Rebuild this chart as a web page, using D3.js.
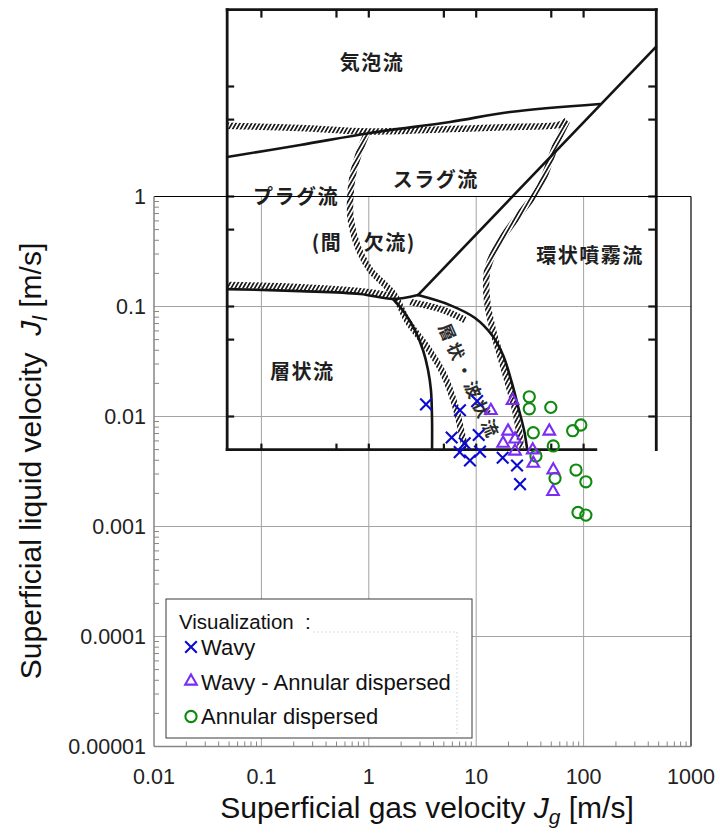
<!DOCTYPE html>
<html>
<head>
<meta charset="utf-8">
<script src="https://cdn.jsdelivr.net/npm/d3@7"></script>
<style>
  body { margin: 0; background: #fff; }
  svg { display: block; }
  .pre { white-space: pre; }
</style>
</head>
<body>
<svg id="chart" width="720" height="834"></svg>
<script>
// ---- axis ticks ----
const xTicks = [0.01, 0.1, 1, 10, 100, 1000];
const xTickLabels = ["0.01", "0.1", "1", "10", "100", "1000"];
const yTicks = [0.00001, 0.0001, 0.001, 0.01, 0.1, 1];
const yTickLabels = ["0.00001", "0.0001", "0.001", "0.01", "0.1", "1"];

// ---- observed flow patterns: [Jg (m/s), Jl (m/s)] ----
const wavy = [
  [3.41, 0.0129], [7.06, 0.0114], [10.2, 0.0138], [5.91, 0.00644],
  [7.82, 0.0057], [7.02, 0.00474], [10.55, 0.00679], [10.85, 0.00479],
  [8.75, 0.00398], [17.65, 0.00422], [24.0, 0.00359], [25.6, 0.00243]
];
const wavyAnnular = [
  [13.7, 0.0116], [21.8, 0.0143], [19.8, 0.00754], [23.0, 0.00638],
  [17.8, 0.00584], [23.0, 0.00496], [33.6, 0.00509], [34.0, 0.00384],
  [47.9, 0.00754], [52.2, 0.00335], [51.9, 0.00213]
];
const annular = [
  [31.2, 0.0151], [31.2, 0.01175], [49.5, 0.0121], [34.0, 0.00712],
  [52.2, 0.0054], [36.0, 0.00437], [79.1, 0.00743], [94.2, 0.00837],
  [54.2, 0.00274], [85.0, 0.00326], [105, 0.00255], [88.7, 0.00134],
  [105, 0.00127]
];

// ---- flow-regime map, boundaries as [Jg, Jl] ----
const mapJgRange = [0.048, 475];
const mapJlRange = [0.005, 50];
const mapBottomEnd = 130;
const mapJgTicks = [0.1, 0.5, 1, 5, 10, 50, 100];
const mapJlTicks = [10, 5, 1, 0.5, 0.1, 0.05, 0.01];

// transition zones (hatched)
const bubbleHatch = [[0.048, 4.4], [0.23, 4.2], [1.0, 3.9], [5.7, 4.1], [25, 4.3], [60, 4.5], [70, 4.9]];
const annularHatch = [
  [70, 4.86], [56, 3.06], [39, 1.22], [28.5, 0.80], [20.6, 0.53], [15, 0.33],
  [12.6, 0.206], [12.6, 0.115], [14.3, 0.061], [16.7, 0.036], [19.4, 0.0215],
  [22.5, 0.0127], [25, 0.0075], [26, 0.0052]
];
const plugSlugHatch = [
  [0.98, 3.94], [0.83, 2.65], [0.71, 1.57], [0.67, 0.93], [0.68, 0.61],
  [0.78, 0.36], [1.03, 0.215], [1.42, 0.157], [1.75, 0.125], [2.27, 0.075],
  [3.48, 0.043], [4.9, 0.025], [6.35, 0.0127], [7.4, 0.0068], [7.9, 0.005]
];
const stratifiedHatch = [[0.048, 0.157], [0.23, 0.150], [0.83, 0.138], [1.68, 0.125]];
const junctionHatch = [[2.42, 0.110], [4.6, 0.095], [7.87, 0.0754]];

// solid boundaries
const slugTop = [[0.048, 2.29], [0.23, 2.94], [1.03, 3.78], [5.7, 4.76], [20.6, 5.86], [142, 6.93]];
const annularDiagonal = [[2.87, 0.127], [472, 22.9]];
const wavyRight = [
  [2.87, 0.127], [5.7, 0.103], [9.75, 0.0786], [14, 0.055], [17.8, 0.036],
  [21.5, 0.0202], [25, 0.0115], [27.9, 0.0075], [29.7, 0.0052]
];
const stratifiedTop = [[0.048, 0.144], [0.23, 0.138], [0.83, 0.130], [1.68, 0.117], [2.87, 0.127]];
const stratifiedRight = [
  [1.68, 0.117], [2.17, 0.087], [2.69, 0.061], [3.2, 0.040], [3.56, 0.0265],
  [3.79, 0.0174], [3.88, 0.0093], [3.88, 0.005]
];

const regimeNames = ["気泡流", "スラグ流", "プラグ流", "(間　欠流)", "層状流", "環状噴霧流"];
const regimeAt = [[1.07, 16.4], [4.2, 1.41], [0.21, 1.0], [0.9, 0.378], [0.24, 0.0254], [115, 0.288]];
const wavyName = "層状・波状流";
const wavyNameAt = [8.6, 0.0206];

// ---- legend ----
const legendTitle = "Visualization  :";
const seriesNames = ["Wavy", "Wavy - Annular dispersed", "Annular dispersed"];
const seriesColors = ["#0b0bd0", "#7a2cf2", "#0e8a0e"];

(function draw() {
  const svg = d3.select("#chart");
  const W = 720, H = 834;
  svg.append("rect").attr("width", W).attr("height", H).attr("fill", "#fff");

  const pL = 154, pR = 691, pT = 196.5, pB = 746.5;
  const x = d3.scaleLog().domain([0.01, 1000]).range([pL, pR]);
  const y = d3.scaleLog().domain([0.00001, 1]).range([pB, pT]);

  const FONT = "'Liberation Sans', Arial, sans-serif";
  const JP = "'Noto Sans CJK JP', 'Noto Sans CJK SC', sans-serif";

  // gridlines
  const grid = svg.append("g").attr("stroke", "#a3a3a3").attr("stroke-width", 1);
  xTicks.slice(1, -1).forEach(v => {
    grid.append("line").attr("x1", x(v)).attr("x2", x(v)).attr("y1", pT).attr("y2", pB);
  });
  yTicks.slice(1, -1).forEach(v => {
    grid.append("line").attr("x1", pL).attr("x2", pR).attr("y1", y(v)).attr("y2", y(v));
  });

  // ---- regime map ----
  const defs = svg.append("defs");
  const pat = defs.append("pattern")
    .attr("id", "hatch")
    .attr("patternUnits", "userSpaceOnUse")
    .attr("width", 3.4).attr("height", 3.4)
    .attr("patternTransform", "rotate(30)");
  pat.append("rect").attr("width", 1.7).attr("height", 3.4).attr("fill", "#1c1c1c");

  const mapG = svg.append("g");
  const smooth = d3.line().x(d => x(d[0])).y(d => y(d[1])).curve(d3.curveCatmullRom.alpha(0.5));
  const straight = d3.line().x(d => x(d[0])).y(d => y(d[1]));

  function hatchBand(p) {
    mapG.append("path").attr("d", smooth(p))
      .attr("fill", "none").attr("stroke", "url(#hatch)")
      .attr("stroke-width", 6.5).attr("stroke-linecap", "butt");
  }
  function solid(p, gen) {
    mapG.append("path").attr("d", (gen || smooth)(p))
      .attr("fill", "none").attr("stroke", "#141414")
      .attr("stroke-width", 2.6).attr("stroke-linejoin", "round").attr("stroke-linecap", "round");
  }

  hatchBand(bubbleHatch);
  hatchBand(annularHatch);
  hatchBand(plugSlugHatch);
  hatchBand(stratifiedHatch);
  hatchBand(junctionHatch);

  solid(slugTop);
  solid(annularDiagonal, straight);
  solid(wavyRight);
  solid(stratifiedTop);
  solid(stratifiedRight);

  // map frame
  const mx0 = x(mapJgRange[0]), mx1 = x(mapJgRange[1]);
  const my0 = y(mapJlRange[1]), my1 = y(mapJlRange[0]);
  const frame = mapG.append("g").attr("stroke", "#141414").attr("stroke-width", 2.8).attr("stroke-linecap", "square");
  frame.append("line").attr("x1", mx0).attr("x2", mx1).attr("y1", my0).attr("y2", my0);
  frame.append("line").attr("x1", mx0).attr("x2", mx0).attr("y1", my0).attr("y2", my1);
  frame.append("line").attr("x1", mx1).attr("x2", mx1).attr("y1", my0).attr("y2", my1);
  frame.append("line").attr("x1", mx0).attr("x2", x(mapBottomEnd)).attr("y1", my1).attr("y2", my1);

  const mt = mapG.append("g").attr("stroke", "#141414").attr("stroke-width", 2.2);
  mapJgTicks.forEach(v => {
    mt.append("line").attr("x1", x(v)).attr("x2", x(v)).attr("y1", my0).attr("y2", my0 + 8);
    if (v <= mapBottomEnd) mt.append("line").attr("x1", x(v)).attr("x2", x(v)).attr("y1", my1).attr("y2", my1 - 6);
  });
  mapJlTicks.forEach(v => {
    mt.append("line").attr("x1", mx0).attr("x2", mx0 + 7).attr("y1", y(v)).attr("y2", y(v));
    mt.append("line").attr("x1", mx1).attr("x2", mx1 - 8).attr("y1", y(v)).attr("y2", y(v));
  });

  // regime names
  regimeNames.forEach((t, i) => {
    mapG.append("text")
      .attr("x", x(regimeAt[i][0])).attr("y", y(regimeAt[i][1]))
      .attr("dy", "0.36em")
      .attr("text-anchor", "middle")
      .attr("font-family", JP).attr("font-size", 20).attr("font-weight", 700)
      .attr("letter-spacing", 1.5)
      .attr("fill", "#1e1e1e")
      .attr("class", "pre")
      .text(t);
  });
  mapG.append("text")
    .attr("transform", `translate(${x(wavyNameAt[0])},${y(wavyNameAt[1])}) rotate(66)`)
    .attr("dy", "0.36em")
    .attr("text-anchor", "middle")
    .attr("font-family", JP).attr("font-size", 17).attr("font-weight", 700)
    .attr("letter-spacing", 4)
    .attr("fill", "#2a2a2a")
    .text(wavyName);

  // ---- plot frame ----
  svg.append("line").attr("x1", pL).attr("x2", pR).attr("y1", pT).attr("y2", pT)
    .attr("stroke", "#000").attr("stroke-width", 1.2);
  svg.append("line").attr("x1", pR).attr("x2", pR).attr("y1", pT).attr("y2", pB)
    .attr("stroke", "#000").attr("stroke-width", 1.2);

  const axisG = svg.append("g").attr("stroke", "#868686").attr("stroke-width", 1.5);
  axisG.append("line").attr("x1", pL).attr("x2", pL).attr("y1", pT).attr("y2", pB);
  axisG.append("line").attr("x1", pL).attr("x2", pR).attr("y1", pB).attr("y2", pB);

  const minorG = svg.append("g").attr("stroke", "#868686").attr("stroke-width", 1);
  xTicks.slice(0, -1).forEach(d => {
    for (let k = 2; k <= 9; k++) {
      const v = d * k;
      minorG.append("line").attr("x1", x(v)).attr("x2", x(v)).attr("y1", pB).attr("y2", pB - 5);
    }
  });
  yTicks.slice(0, -1).forEach(d => {
    for (let k = 2; k <= 9; k++) {
      const v = d * k;
      minorG.append("line").attr("x1", pL).attr("x2", pL + 5).attr("y1", y(v)).attr("y2", y(v));
    }
  });

  // tick labels
  xTicks.forEach((v, i) => {
    svg.append("text").attr("x", x(v)).attr("y", pB + 37)
      .attr("text-anchor", "middle")
      .attr("font-family", FONT).attr("font-size", 21.5).attr("fill", "#222")
      .text(xTickLabels[i]);
  });
  yTicks.forEach((v, i) => {
    svg.append("text").attr("x", pL - 8).attr("y", y(v)).attr("dy", "0.35em")
      .attr("text-anchor", "end")
      .attr("font-family", FONT).attr("font-size", 21.5).attr("fill", "#222")
      .text(yTickLabels[i]);
  });

  // axis titles
  const xt = svg.append("text").attr("x", 427).attr("y", 818)
    .attr("text-anchor", "middle").attr("font-family", FONT).attr("font-size", 30)
    .attr("fill", "#111").attr("class", "pre");
  xt.append("tspan").text("Superficial gas velocity ");
  xt.append("tspan").attr("font-style", "italic").text("J");
  xt.append("tspan").attr("font-style", "italic").attr("font-size", 21).attr("dy", 6).text("g");
  xt.append("tspan").attr("dy", -6).text(" [m/s]");

  const yt = svg.append("text").attr("transform", "translate(41,461) rotate(-90)")
    .attr("text-anchor", "middle").attr("font-family", FONT).attr("font-size", 30)
    .attr("fill", "#111").attr("class", "pre");
  yt.append("tspan").text("Superficial liquid velocity  ");
  yt.append("tspan").attr("font-style", "italic").text("J");
  yt.append("tspan").attr("font-style", "italic").attr("font-size", 21).attr("dy", 6).text("l");
  yt.append("tspan").attr("dy", -6).text(" [m/s]");

  // ---- markers ----
  function drawX(g, cx, cy, color) {
    const s = 5.8;
    g.append("path")
      .attr("d", `M${cx - s},${cy - s}L${cx + s},${cy + s}M${cx - s},${cy + s}L${cx + s},${cy - s}`)
      .attr("stroke", color).attr("stroke-width", 2.1).attr("fill", "none");
  }
  function drawTri(g, cx, cy, color) {
    g.append("path")
      .attr("d", `M${cx},${cy - 5.6}L${cx + 5.8},${cy + 4.6}L${cx - 5.8},${cy + 4.6}Z`)
      .attr("stroke", color).attr("stroke-width", 2.1).attr("fill", "none")
      .attr("stroke-linejoin", "miter");
  }
  function drawCircle(g, cx, cy, color) {
    g.append("circle").attr("cx", cx).attr("cy", cy).attr("r", 5.6)
      .attr("stroke", color).attr("stroke-width", 2.1).attr("fill", "none");
  }
  const drawers = [drawX, drawTri, drawCircle];
  const seriesData = [wavy, wavyAnnular, annular];

  const pts = svg.append("g");
  // annular first so the wavy crosses sit on top
  [2, 1, 0].forEach(si => {
    seriesData[si].forEach(d => drawers[si](pts, x(d[0]), y(d[1]), seriesColors[si]));
  });

  // ---- legend ----
  const lg = svg.append("g");
  lg.append("rect").attr("x", 166).attr("y", 599).attr("width", 306).attr("height", 139)
    .attr("fill", "#fff").attr("stroke", "#3a3a3a").attr("stroke-width", 1);
  lg.append("path").attr("d", "M313,632H457V735")
    .attr("fill", "none").attr("stroke", "#cfcfcf").attr("stroke-width", 1).attr("stroke-dasharray", "1.5,2.5");
  lg.append("text").attr("x", 179).attr("y", 629)
    .attr("font-family", FONT).attr("font-size", 20.5).attr("fill", "#111").attr("class", "pre")
    .text(legendTitle);
  const rowY = [647, 680, 716.5];
  const baseY = [655, 689.5, 723.5];
  seriesNames.forEach((n, i) => {
    drawers[i](lg, 191, rowY[i], seriesColors[i]);
    lg.append("text").attr("x", 201).attr("y", baseY[i])
      .attr("font-family", FONT).attr("font-size", 22).attr("fill", "#111")
      .text(n);
  });
})();
</script>
</body>
</html>
